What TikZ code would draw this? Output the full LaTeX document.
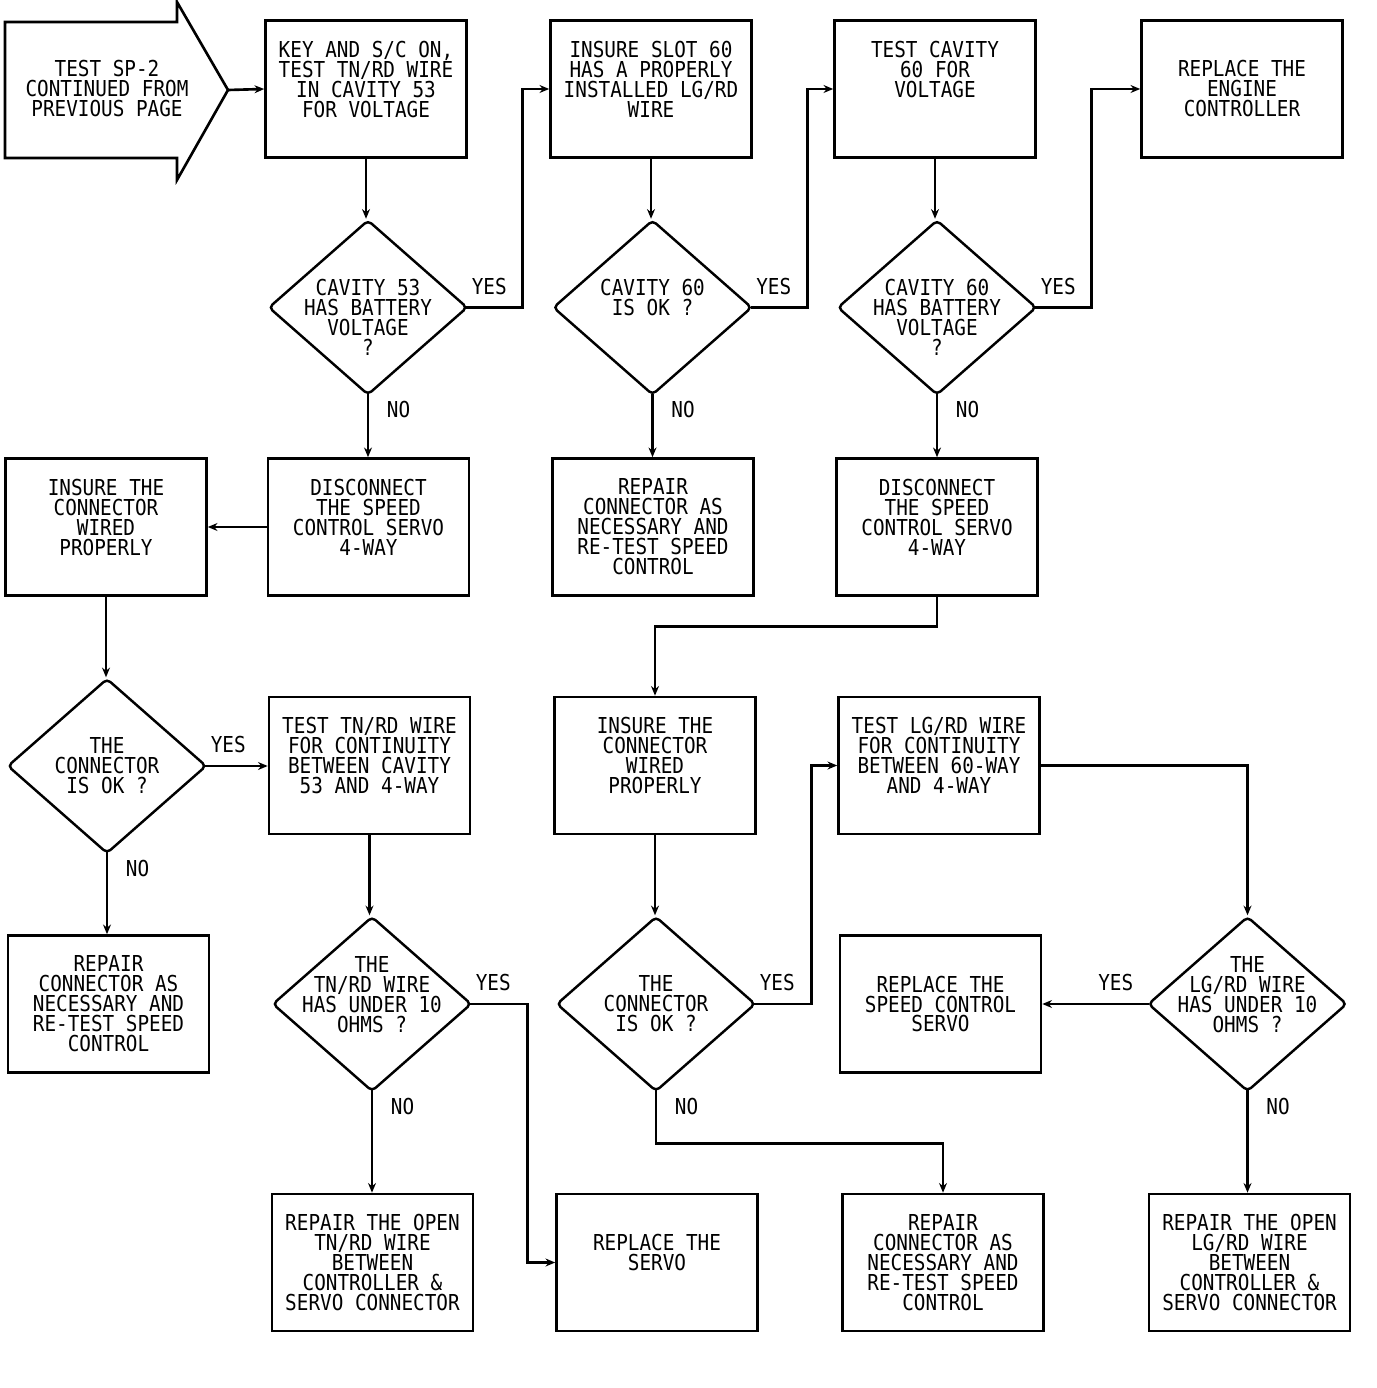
\documentclass[tikz,border=0pt]{standalone}
\usepackage{fontspec}
\newfontfamily\chartfont[FakeStretch=0.88]{DejaVu Sans Mono}
\usetikzlibrary{arrows.meta, shapes.geometric}

\tikzset{
  txt/.style={font=\chartfont\fontsize{12.5}{11.38}\selectfont},
  box/.style={txt, draw, line width=1.5pt, minimum width=4.02cm, minimum height=2.74cm, align=center, inner sep=0pt},
  dec/.style={draw, diamond, line width=1.4pt, rounded corners=2.5pt, minimum width=3.98cm, minimum height=3.5cm, inner sep=0pt},
  every label/.style={txt, align=center, inner sep=0pt},
  conn/.style={line width=1.5pt, -{Stealth[length=5.5pt,width=4.5pt]}},
  dline/.style={conn, shorten <=-1.3pt},
  yes/.style={txt, pos=0, above right, inner sep=1pt, yshift=5.5pt},
  yesl/.style={txt, pos=0, above left, inner sep=1pt, yshift=5.5pt, xshift=-6pt},
  no/.style={txt, pos=0, below right, inner sep=1pt, xshift=9pt, yshift=-1.2pt}
}

\begin{document}
\begin{tikzpicture}[x=0.02cm, y=-0.02cm]
  \useasboundingbox (0,0) rectangle (1376,1388);

  % entry arrow
  \draw[line width=1.5pt, line join=miter] (5,22) -- (177,22) -- (177,2) -- (228,90)
    -- (177,180) -- (177,158) -- (5,158) -- cycle;
  \coordinate (tip) at (228,90);
  \node[txt, align=center] (start) at (107,89) {TEST SP-2\\CONTINUED FROM\\PREVIOUS PAGE};

  % top row
  \node[box] (b1) at (366,89) {KEY AND S/C ON,\\TEST TN/RD WIRE\\IN CAVITY 53\\FOR VOLTAGE\\~};
  \node[box] (b2) at (651,89) {INSURE SLOT 60\\HAS A PROPERLY\\INSTALLED LG/RD\\WIRE\\~};
  \node[box] (b3) at (935,89) {TEST CAVITY\\60 FOR\\VOLTAGE\\~\\~};
  \node[box] (b4) at (1242,89) {REPLACE THE\\ENGINE\\CONTROLLER};

  % first decisions
  \node[dec, label={[yshift=-5.7pt]center:CAVITY 53\\HAS BATTERY\\VOLTAGE\\?}] (d1) at (368,307.5) {};
  \node[dec, label={center:CAVITY 60\\IS OK ?\\~}] (d2) at (652.5,307.5) {};
  \node[dec, label={[yshift=-5.7pt]center:CAVITY 60\\HAS BATTERY\\VOLTAGE\\?}] (d3) at (937,307.5) {};

  % second row of boxes
  \node[box] (b5) at (106,527) {INSURE THE\\CONNECTOR\\WIRED\\PROPERLY\\~};
  \node[box] (b6) at (368.5,527) {DISCONNECT\\THE SPEED\\CONTROL SERVO\\4-WAY\\~};
  \node[box] (b7) at (653,527) {REPAIR\\CONNECTOR AS\\NECESSARY AND\\RE-TEST SPEED\\CONTROL};
  \node[box] (b8) at (937,527) {DISCONNECT\\THE SPEED\\CONTROL SERVO\\4-WAY\\~};

  % third row
  \node[dec, label={center:THE\\CONNECTOR\\IS OK ?}] (d4) at (107,766) {};
  \node[box] (b10) at (369.5,765.5) {TEST TN/RD WIRE\\FOR CONTINUITY\\BETWEEN CAVITY\\53 AND 4-WAY\\~};
  \node[box] (b9) at (655,765.5) {INSURE THE\\CONNECTOR\\WIRED\\PROPERLY\\~};
  \node[box] (b11) at (939,765.5) {TEST LG/RD WIRE\\FOR CONTINUITY\\BETWEEN 60-WAY\\AND 4-WAY\\~};

  % fourth row
  \node[box] (b12) at (108.5,1004) {REPAIR\\CONNECTOR AS\\NECESSARY AND\\RE-TEST SPEED\\CONTROL};
  \node[dec, label={center:THE\\TN/RD WIRE\\HAS UNDER 10\\OHMS ?\\~}] (d5) at (372,1004) {};
  \node[dec, label={center:THE\\CONNECTOR\\IS OK ?}] (d6) at (656,1004) {};
  \node[box] (b13) at (940.5,1004) {REPLACE THE\\SPEED CONTROL\\SERVO};
  \node[dec, label={center:THE\\LG/RD WIRE\\HAS UNDER 10\\OHMS ?\\~}] (d7) at (1247.5,1004) {};

  % bottom row
  \node[box] (b14) at (372.5,1262.5) {REPAIR THE OPEN\\TN/RD WIRE\\BETWEEN\\CONTROLLER \&\\SERVO CONNECTOR};
  \node[box] (b15) at (657,1262.5) {REPLACE THE\\SERVO\\~};
  \node[box] (b16) at (943,1262.5) {REPAIR\\CONNECTOR AS\\NECESSARY AND\\RE-TEST SPEED\\CONTROL};
  \node[box] (b17) at (1249.5,1262.5) {REPAIR THE OPEN\\LG/RD WIRE\\BETWEEN\\CONTROLLER \&\\SERVO CONNECTOR};

  % connectors
  \draw[conn] (tip) -- (b1.west);
  \draw[conn] (b1.south) -- (b1.south |- d1.north);
  \draw[dline] (d1.east) -- node[yes]{YES} ++(54,0) |- (b2.west);
  \draw[dline] (d1.south) -- node[no]{NO} (d1.south |- b6.north);
  \draw[conn] (b6.west) -- (b5.east);
  \draw[conn] (b2.south) -- (b2.south |- d2.north);
  \draw[dline] (d2.east) -- node[yes]{YES} ++(54,0) |- (b3.west);
  \draw[dline] (d2.south) -- node[no]{NO} (d2.south |- b7.north);
  \draw[conn] (b3.south) -- (b3.south |- d3.north);
  \draw[dline] (d3.east) -- node[yes]{YES} ++(54,0) |- (b4.west);
  \draw[dline] (d3.south) -- node[no]{NO} (d3.south |- b8.north);
  \draw[conn] (b8.south) -- ++(0,30) -| (b9.north);
  \draw[conn] (b5.south) -- (b5.south |- d4.north);
  \draw[dline] (d4.east) -- node[yes]{YES} (d4.east -| b10.west);
  \draw[dline] (d4.south) -- node[no]{NO} (d4.south |- b12.north);
  \draw[conn] (b10.south) -- (b10.south |- d5.north);
  \draw[dline] (d5.east) -- node[yes]{YES} ++(55,0) |- (b15.west);
  \draw[dline] (d5.south) -- node[no]{NO} (d5.south |- b14.north);
  \draw[conn] (b9.south) -- (b9.south |- d6.north);
  \draw[dline] (d6.east) -- node[yes]{YES} ++(55,0) |- (b11.west);
  \draw[dline] (d6.south) -- node[no]{NO} ++(0,51) -| (b16.north);
  \draw[conn] (b11.east) -| (d7.north);
  \draw[dline] (d7.west) -- node[yesl]{YES} (d7.west -| b13.east);
  \draw[dline] (d7.south) -- node[no]{NO} (d7.south |- b17.north);
\end{tikzpicture}
\end{document}
